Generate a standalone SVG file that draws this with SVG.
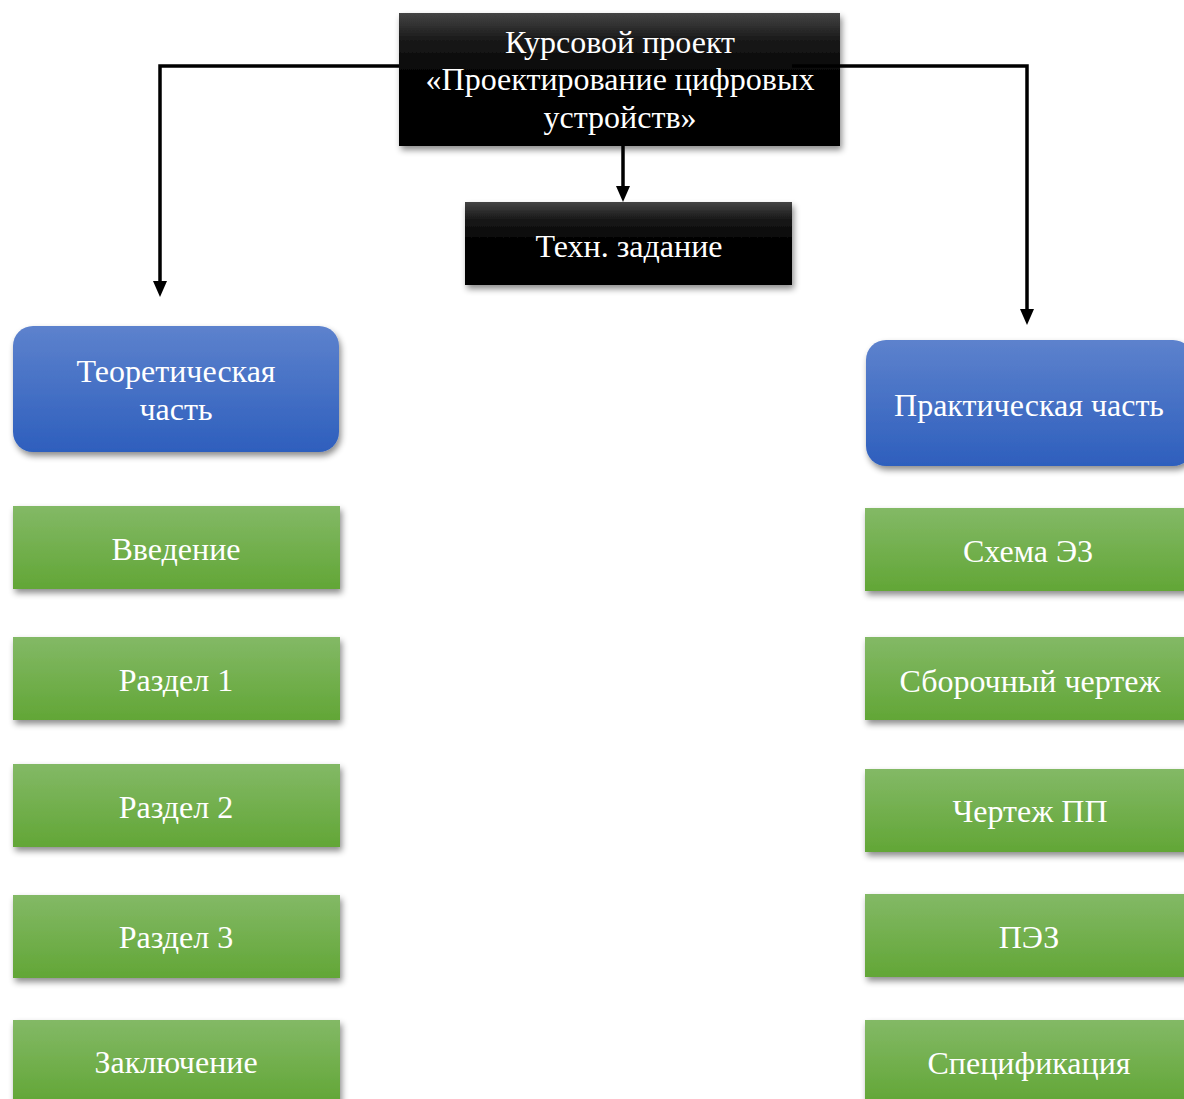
<svg xmlns="http://www.w3.org/2000/svg" width="1184" height="1099" viewBox="0 0 1184 1099">
<defs>
<linearGradient id="gBlack" x1="0" y1="0" x2="0" y2="1"><stop offset="0" stop-color="#444"/><stop offset="0.2" stop-color="#1a1a1a"/><stop offset="0.5" stop-color="#000"/><stop offset="1" stop-color="#000"/></linearGradient>
<linearGradient id="gBlue" x1="0" y1="0" x2="0" y2="1"><stop offset="0" stop-color="#5d82cd"/><stop offset="1" stop-color="#2e5fbd"/></linearGradient>
<linearGradient id="gGreen" x1="0" y1="0" x2="0" y2="1"><stop offset="0" stop-color="#83b966"/><stop offset="1" stop-color="#62a636"/></linearGradient>
<filter id="sh" x="-10%" y="-10%" width="125%" height="135%"><feDropShadow dx="2" dy="4" stdDeviation="3" flood-color="#000" flood-opacity="0.45"/></filter>
<marker id="arr" markerWidth="16" markerHeight="14" refX="0" refY="7" orient="auto" markerUnits="userSpaceOnUse" viewBox="0 0 16 14"><path d="M0,0 L16,7 L0,14 Z" fill="#000"/></marker>
</defs>
<style>
text{font-family:"Liberation Serif","Times New Roman",serif;font-size:32px;fill:#fff;text-anchor:middle}
.blk{fill:url(#gBlack);filter:url(#sh)}
.blu{fill:url(#gBlue);filter:url(#sh)}
.grn{fill:url(#gGreen);filter:url(#sh)}
.con{fill:none;stroke:#000;stroke-width:3.5;marker-end:url(#arr)}
</style>
<g id="n-top"><rect class="blk" x="399" y="13" width="441" height="133"/><text x="620" y="53">Курсовой проект</text><text x="620" y="90">«Проектирование цифровых</text><text x="620" y="128">устройств»</text></g>
<g id="n-tz"><rect class="blk" x="465" y="202" width="327" height="83"/><text x="629" y="257">Техн. задание</text></g>
<g id="n-theory"><rect class="blu" x="13" y="326" width="326" height="126" rx="20"/><text x="176" y="382">Теоретическая</text><text x="176" y="420">часть</text></g>
<g id="n-practice"><rect class="blu" x="866" y="340" width="327" height="126" rx="20"/><text x="1029" y="416">Практическая часть</text></g>
<g id="n-vved"><rect class="grn" x="13" y="506" width="327" height="83"/><text x="176" y="560">Введение</text></g>
<g id="n-r1"><rect class="grn" x="13" y="637" width="327" height="83"/><text x="176" y="691">Раздел 1</text></g>
<g id="n-r2"><rect class="grn" x="13" y="764" width="327" height="83"/><text x="176" y="818">Раздел 2</text></g>
<g id="n-r3"><rect class="grn" x="13" y="895" width="327" height="83"/><text x="176" y="948">Раздел 3</text></g>
<g id="n-zakl"><rect class="grn" x="13" y="1020" width="327" height="83"/><text x="176" y="1073">Заключение</text></g>
<g id="n-e3"><rect class="grn" x="865" y="508" width="327" height="83"/><text x="1028" y="562">Схема Э3</text></g>
<g id="n-sb"><rect class="grn" x="865" y="637" width="327" height="83"/><text x="1030" y="692">Сборочный чертеж</text></g>
<g id="n-pp"><rect class="grn" x="865" y="769" width="327" height="83"/><text x="1030" y="822">Чертеж ПП</text></g>
<g id="n-pe3"><rect class="grn" x="865" y="894" width="327" height="83"/><text x="1029" y="948">ПЭЗ</text></g>
<g id="n-spec"><rect class="grn" x="865" y="1020" width="327" height="83"/><text x="1029" y="1074">Спецификация</text></g>
<g id="connectors">
<path class="con" d="M399,66 H160 V281"/>
<path class="con" d="M792,66 H1027 V309"/>
<path class="con" d="M623,146 V186"/>
</g>
</svg>
